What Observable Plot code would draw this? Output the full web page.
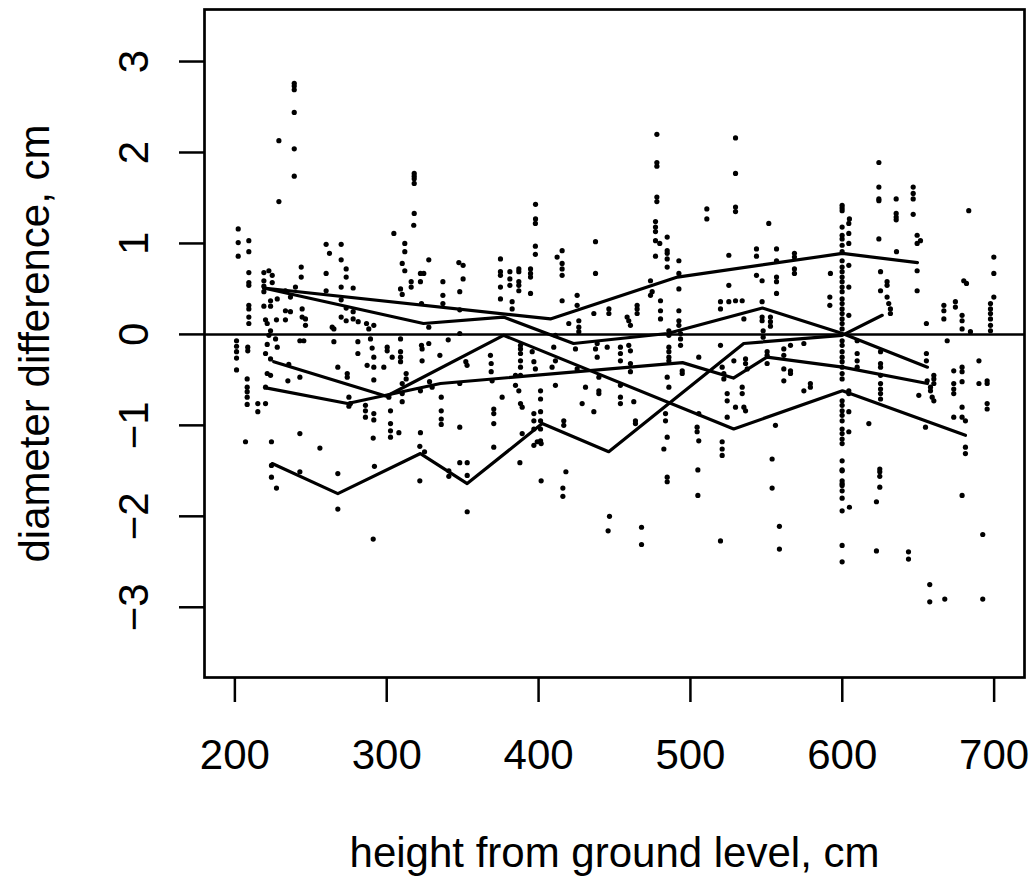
<!DOCTYPE html>
<html><head><meta charset="utf-8">
<script src="https://cdn.jsdelivr.net/npm/d3@7"></script>
<script src="https://cdn.jsdelivr.net/npm/@observablehq/plot@0.6"></script>
<style>body{margin:0;background:#fff}</style>
</head><body><div id="chart"></div>
<script>
const xTicks = [200, 300, 400, 500, 600, 700];
const yTicks = [-3, -2, -1, 0, 1, 2, 3];
const xTitle = "height from ground level, cm";
const yTitle = "diameter difference, cm";

// individual measurements [height, difference]
const dots = [
[229.0,2.13],[229.0,1.46],[239.1,2.76],[239.1,2.73],[239.1,2.69],[239.1,2.44],[239.1,2.04],[239.1,1.74],
[318.1,1.77],[318.1,1.74],[318.1,1.71],[318.1,1.66],[318.1,1.33],
[398.0,1.43],[398.0,1.27],[477.9,2.20],[477.9,1.89],[477.9,1.85],[477.9,1.51],[477.9,1.46],[510.8,1.38],[510.8,1.27],
[529.7,2.16],[529.7,1.77],[529.7,1.40],[529.7,1.35],
[599.9,1.42],[599.9,1.39],[599.9,1.36],[624.1,1.89],[624.1,1.62],[624.1,1.49],[624.1,1.47],[635.5,1.49],
[646.7,1.62],[646.7,1.55],[646.7,1.49],[646.7,1.32],[635.5,1.33],[635.5,1.29],[635.5,1.26],[683.3,1.36],[604.7,1.27],
[201.1,-0.07],[201.1,-0.13],[201.1,-0.19],[201.1,-0.26],[201.1,-0.39],
[202.2,1.16],[202.2,1.01],[202.2,0.86],
[209.2,1.03],[209.2,0.91],[209.2,0.68],[209.2,0.57],[209.2,0.54],[209.2,0.32],[209.2,0.28],[209.2,0.19],[209.2,0.12],
[208.5,-0.14],[208.5,-0.18],[208.1,-0.49],[208.1,-0.58],[208.1,-0.63],[208.1,-0.69],[208.1,-0.77],[207.0,-1.18],
[215.1,-0.76],[215.1,-0.85],
[219.1,0.68],[219.1,0.59],[219.1,0.53],[219.1,0.47],[222.4,0.70],[224.6,0.65],[224.6,0.57],[219.1,0.31],[223.5,0.31],
[227.9,0.39],[223.5,0.37],[220.2,0.16],[221.3,0.12],[223.5,0.04],[222.4,-0.01],[221.3,-0.11],[220.2,-0.21],[223.5,-0.27],
[221.3,-0.43],[223.5,-0.45],[220.2,-0.58],[220.2,-0.76],[224.1,-1.18],[226.8,-0.05],[227.9,-0.14],[227.4,0.16],
[233.3,0.48],[236.6,0.41],[233.3,0.26],[233.3,0.16],[239.9,0.52],[243.7,0.74],[243.7,0.63],[244.3,0.28],[244.3,0.19],
[246.5,0.17],[246.5,0.10],[242.8,-0.07],[245.4,-0.07],[235.5,-0.33],[234.9,-0.51],[242.8,-0.47],[242.8,-1.09],[236.6,0.25],
[260.1,0.99],[262.3,0.89],[260.1,0.67],[260.1,0.48],[270.0,0.99],[270.0,0.82],[273.3,0.72],[273.3,0.63],[270.0,0.52],
[270.0,0.38],[273.3,0.29],[270.0,0.19],[273.3,0.15],[277.9,0.51],[277.9,0.17],[277.9,0.25],[281.2,0.14],[264.1,0.08],
[265.2,0.06],[265.2,-0.08],[267.8,-0.36],[274.0,-0.43],[274.0,-0.47],[275.1,-0.69],[276.1,-0.76],[275.1,-0.79],[256.0,-1.25],
[281.0,-0.08],[281.0,-0.21],[286.7,0.12],[291.5,0.10],[288.2,0.06],[289.3,-0.05],[290.4,-0.15],[291.5,-0.25],[287.1,-0.34],
[291.5,-0.36],[291.5,-0.50],[286.0,-0.78],[286.0,-0.84],[286.0,-0.91],[291.5,-0.87],[291.5,-0.94],[291.1,-1.14],
[298.1,-0.36],[300.3,-0.14],[300.3,-0.18],[303.6,-0.25],[301.4,-0.69],[302.5,-0.84],[302.5,-0.98],[302.5,-1.06],[302.5,-1.13],
[308.0,-1.08],[309.1,-0.05],[309.1,-0.19],[309.1,-0.25],[309.1,-0.30],[312.8,-0.43],[312.8,-0.49],[310.2,-0.54],[310.2,-0.65],
[310.2,-0.74],[304.7,1.11],[317.8,1.20],[311.9,1.00],[311.9,0.91],[310.2,0.78],[311.9,0.70],[309.1,0.50],[310.2,0.44],
[316.1,0.58],[316.1,0.52],
[322.2,0.67],[324.4,0.67],[322.2,0.58],[322.9,0.34],[327.7,0.82],[322.9,-0.12],[327.7,-0.10],[323.3,-0.16],[323.3,-0.29],
[322.2,-0.62],[328.2,-0.52],[329.9,-0.58],[322.2,-1.08],[321.8,-1.23],[327.7,0.08],
[340.5,-0.06],[337.0,0.58],[337.0,0.43],[337.0,0.34],[347.5,0.79],[350.3,0.76],[350.3,0.61],[348.1,0.47],[348.1,0.27],
[348.1,0.01],[352.1,-0.30],[352.9,-0.34],[335.9,-0.69],[335.9,-0.84],[335.9,-0.93],[335.9,-0.99],[348.1,-1.02],[348.1,-0.54],[335.0,-0.23],
[224.1,-1.44],[224.1,-1.57],[227.4,-1.69],[242.8,-1.51],[267.8,-1.53],[267.8,-1.92],[291.1,-2.25],[291.9,-1.45],[321.8,-1.61],
[324.9,-1.29],[340.9,-1.50],[340.9,-1.56],[348.1,-1.41],[353.0,-1.41],[353.0,-1.55],[353.0,-1.95],
[368.3,-0.23],[368.8,-0.32],[368.8,-0.41],[369.4,-0.51],[370.5,-0.82],[370.5,-0.87],[370.5,-0.98],[370.5,-1.24],[374.9,0.83],
[374.9,0.69],[374.9,0.65],[374.9,0.52],[374.9,0.39],[376.0,-0.69],[381.1,0.69],[381.1,0.61],[381.1,0.54],[382.6,0.36],[382.6,0.28],
[387.0,0.72],[387.0,0.69],[387.0,0.58],[387.0,0.54],[387.0,0.48],[388.1,-0.12],[388.1,-0.16],[388.1,-0.21],[388.1,-0.29],
[388.1,-0.36],[388.1,-0.45],[384.8,-0.45],[384.8,-0.56],[387.0,-0.62],[388.1,-0.76],[389.2,-0.80],[389.2,-1.09],[394.7,0.72],
[394.7,0.67],[394.7,0.63],[394.7,0.45],[397.9,1.22],[397.9,0.97],[397.9,0.88],[395.8,-0.19],[396.9,-0.30],[397.9,-0.38],
[401.3,-0.62],[401.3,-0.71],[401.3,-0.85],[401.3,-0.95],[401.3,-1.04],[401.3,-1.17],[396.9,-0.87],[396.9,-0.95],[396.9,-1.04],
[399.1,-1.18],[412.2,0.85],[415.5,0.92],[415.5,0.78],[415.5,0.72],[415.5,0.65],[415.5,0.37],[411.1,-0.01],[410.0,-0.14],
[411.1,-0.29],[408.9,-0.36],[411.1,-0.56],[416.6,-0.95],[416.6,-1.00],[419.9,0.12],[425.4,0.43],[425.4,0.32],[426.5,0.15],
[426.5,0.08],[426.5,0.03],[424.3,-0.16],[425.4,-0.38],[430.9,-0.58],[428.7,-0.76],[437.5,1.02],[437.5,0.67],[436.4,0.23],
[438.6,-0.10],[437.5,-0.16],[438.6,-0.25],[439.7,-0.47],[439.7,-0.62],[439.7,-0.65],[436.4,-0.85],[446.3,0.28],[446.3,0.23],
[445.2,-0.14],[453.9,-0.14],[453.9,-0.21],[453.9,-0.29],[453.9,-0.56],[453.9,-0.69],[453.9,-0.76],[459.4,-0.12],[460.5,-0.18],
[460.5,-0.32],[460.5,-0.41],[462.7,-0.74],[463.8,-0.95],[463.8,-0.98],[458.3,0.19],[459.4,0.15],[460.5,0.10],[464.9,0.32],
[464.9,0.28],[464.9,0.23],[473.7,0.59],[473.7,0.43],[474.8,0.47],[477.0,1.24],[477.0,1.18],[477.0,1.13],[477.0,1.03],
[479.8,1.00],[484.7,1.07],[484.7,0.92],[484.7,0.89],[484.7,0.83],[484.7,0.74],[477.0,0.86],[480.3,0.37],[480.3,0.26],
[480.3,0.17],[485.8,0.04],[485.8,-0.01],[485.8,-0.14],[485.8,-0.19],[485.8,-0.25],[485.8,-0.29],[484.7,-0.47],[485.8,-0.58],
[483.6,-0.87],[483.6,-0.95],[484.7,-1.13],[482.5,-1.26],[492.4,0.81],[492.4,0.67],[492.4,0.50],[492.4,0.26],[492.4,0.15],
[492.4,0.10],[493.5,0.01],[493.5,-0.05],[493.5,-0.12],[494.6,-0.40],[494.6,-0.43],[505.5,-0.25],[505.5,-0.87],[504.4,-1.02],
[504.4,-1.07],[505.5,-1.17],[519.8,0.36],[519.8,0.28],[525.3,0.87],[525.3,0.54],[525.3,0.36],[519.8,-0.12],[520.9,-0.36],
[522.0,-0.43],[522.0,-0.49],[524.2,-0.65],[524.2,-0.73],[520.9,-1.18],[520.9,-1.26],[520.9,-1.33],[529.7,0.37],[528.6,-0.29],
[529.7,-0.80],[524.2,-0.91],
[387.7,-1.41],[396.9,-1.22],[401.7,-1.20],[401.7,-1.61],[416.0,-1.69],[416.0,-1.78],[418.0,-1.51],[446.7,-2.00],[445.8,-2.16],
[467.8,-2.12],[467.8,-2.31],[484.7,-1.57],[484.7,-1.62],[504.9,-1.49],[504.9,-1.77],[519.8,-2.27],
[551.6,1.22],[543.5,0.94],[543.5,0.86],[543.5,0.65],[547.2,0.59],[556.7,0.94],[556.7,0.81],[556.7,0.63],[556.7,0.58],
[556.7,0.45],[568.5,0.89],[568.5,0.85],[568.5,0.72],[568.5,0.67],[547.2,0.36],[547.2,0.19],[547.2,0.15],[552.7,0.19],
[552.7,0.14],[552.7,0.09],[547.9,0.04],[547.9,-0.03],[550.5,-0.19],[550.5,-0.23],[550.5,-0.32],[561.5,-0.16],[561.5,-0.23],
[561.5,-0.38],[565.9,-0.12],[565.9,-0.40],[565.9,-0.43],[561.5,-0.51],[574.7,-0.10],[574.7,-0.62],[579.0,-0.54],[579.0,-0.58],
[536.3,-0.27],[536.3,-0.32],[537.4,-0.38],[534.1,-0.58],[534.1,-0.65],[536.3,-0.84],[535.2,-0.80],[556.0,-1.00],[553.8,-1.37],
[534.1,0.37],[535.2,0.17],[592.2,0.67],[591.8,0.41],[591.8,0.32],
[599.9,1.18],[599.9,1.09],[599.9,1.05],[599.9,0.98],[599.9,0.91],[599.9,0.81],[599.9,0.74],[599.9,0.69],[599.9,0.63],
[599.9,0.58],[599.9,0.52],[599.9,0.47],[599.9,0.39],[599.9,0.34],[599.9,0.28],[599.9,0.23],[599.9,0.17],[599.9,0.12],
[599.9,0.06],[599.9,-0.07],[599.9,-0.12],[599.9,-0.19],[599.9,-0.25],[599.9,-0.30],[599.9,-0.36],[599.9,-0.43],[599.9,-0.49],
[599.9,-0.73],[599.9,-0.78],[599.9,-0.84],[599.9,-0.89],[599.9,-0.95],[599.9,-1.04],[599.9,-1.09],[599.9,-1.15],[599.9,-1.20],
[604.3,1.22],[604.3,1.11],[604.3,1.00],[604.3,0.76],[604.3,0.52],[604.3,0.21],[604.3,-0.62],[604.3,-0.65],[604.3,-0.85],[604.3,-1.07],
[609.8,-0.07],[609.8,-0.21],[609.8,-0.29],[609.8,-0.36],[617.5,-0.98],
[624.1,1.05],[625.2,0.69],[625.2,0.48],[629.5,0.58],[629.5,0.54],[629.5,0.41],[630.6,0.34],[631.7,0.28],[631.7,0.23],
[635.7,0.91],[625.2,-0.19],[625.2,-0.32],[625.2,-0.36],[625.2,-0.45],[625.2,-0.54],[625.2,-0.60],[625.2,-0.65],[625.2,-0.71],
[649.3,1.09],[651.5,1.03],[649.3,1.00],[649.3,0.70],[649.3,0.48],[655.4,0.12],[655.4,-0.21],[655.4,-0.29],[660.3,-0.45],
[660.3,-0.49],[660.3,-0.54],[658.1,-0.58],[658.1,-0.62],[659.2,-0.69],[660.3,-0.73],[650.4,-0.67],[654.8,-1.02],[655.9,-0.51],
[666.9,0.32],[666.9,0.26],[666.9,0.17],[669.1,-0.07],[674.5,0.36],[674.5,0.30],[678.9,0.21],[678.9,0.15],[678.9,0.06],
[680.0,0.59],[681.8,0.56],[673.4,-0.40],[673.4,-0.54],[673.4,-0.60],[673.4,-0.65],[678.9,-0.36],[678.9,-0.41],[678.9,-0.52],
[678.9,-0.80],[678.9,-0.91],[681.1,-0.95],[681.1,-1.24],[681.1,-1.31],[673.4,-0.91],[690.0,-0.29],[690.0,-0.54],[695.4,-0.51],
[695.4,-0.54],[695.4,-0.76],[695.4,-0.82],[697.6,0.34],[697.6,0.28],[697.6,0.23],[697.6,0.17],[697.6,0.10],[697.6,0.04],
[699.8,0.41],[699.8,0.67],[699.8,0.85],[684.4,0.03],
[553.8,-1.69],[558.6,-2.11],[558.6,-2.36],
[599.9,-1.39],[599.9,-1.49],[599.9,-1.50],[599.9,-1.61],[599.9,-1.64],[599.9,-1.66],[599.9,-1.72],[599.9,-1.80],[599.9,-1.94],
[599.9,-2.32],[599.9,-2.50],[604.7,-1.90],[624.7,-1.48],[624.7,-1.51],[624.7,-1.56],[624.7,-1.68],[622.5,-1.84],[622.5,-2.38],
[643.6,-2.39],[643.6,-2.47],[657.6,-2.75],[657.6,-2.94],[667.5,-2.91],[678.9,-1.77],[692.5,-2.20],[692.5,-2.91]
];

// per-tree mean profiles [height, difference]
const treeA = [[218.9,0.51],[324.2,0.12],[376.9,0.19],[423.0,-0.10],[484.9,0.01],[547.4,0.29],[600.1,0.01],[656.1,-0.36]];
const treeB = [[218.9,0.51],[407.8,0.17],[491.5,0.63],[600.1,0.89],[649.5,0.79]];
const treeC = [[224.6,-1.42],[267.8,-1.75],[322.2,-1.31],[353.0,-1.64],[402.4,-0.98],[446.2,-1.29],[535.1,-0.10],[599.9,-0.01],[626.3,0.21]];
const treeD = [[225.6,-0.30],[299.8,-0.68],[376.9,-0.01],[528.5,-1.04],[600.1,-0.62],[681.1,-1.11]];
const treeE = [[221.3,-0.59],[274.2,-0.76],[335.4,-0.54],[494.8,-0.31],[528.3,-0.48],[550.4,-0.25],[600.1,-0.36],[656.1,-0.54]];

const lines = [treeA, treeB, treeC, treeD, treeE]
  .flatMap((pts, i) => pts.map(([x, y]) => ({x, y, tree: i})));
const fmt = d3.format("d");
const font = "'Liberation Sans', Arial, Helvetica, sans-serif";
const fs = 42;

const chart = Plot.plot({
  width: 1034,
  height: 879,
  marginLeft: 204,
  marginRight: 10,
  marginTop: 9,
  marginBottom: 202,
  x: {domain: [180, 720], label: null},
  y: {domain: [-3.772, 3.572], label: null},
  style: {fontFamily: font, background: "#fff", color: "#000"},
  marks: [
    Plot.ruleY([0], {stroke: "#000", strokeWidth: 2.5}),
    Plot.dot(dots, {x: d => d[0], y: d => d[1], r: 2.6, fill: "#000", stroke: "none"}),
    Plot.line(lines, {x: "x", y: "y", z: "tree", stroke: "#000", strokeWidth: 3.2, strokeLinejoin: "round", strokeLinecap: "round"}),
    Plot.frame({stroke: "#000", strokeWidth: 2.7}),
    Plot.axisX({ticks: xTicks, tickSize: 25, strokeWidth: 2.5, tickFormat: () => "", label: null}),
    Plot.axisY({ticks: yTicks, tickSize: 25, strokeWidth: 2.5, tickFormat: () => "", label: null}),
    Plot.text(xTicks, {x: d => d, text: d => String(d), frameAnchor: "bottom", dy: 78, fontSize: fs, lineAnchor: "middle", fill: "#000"}),
    Plot.text(yTicks, {y: d => d, text: d => fmt(d), frameAnchor: "left", dx: -70, rotate: -90, fontSize: fs, lineAnchor: "middle", textAnchor: "middle", fill: "#000"}),
    Plot.text([xTitle], {text: d => d, frameAnchor: "bottom", dy: 176, fontSize: fs, lineAnchor: "middle", textAnchor: "middle", fill: "#000"}),
    Plot.text([yTitle], {text: d => d, frameAnchor: "left", dx: -169, rotate: -90, fontSize: fs, lineAnchor: "middle", textAnchor: "middle", fill: "#000"})
  ]
});
document.getElementById("chart").appendChild(chart);
</script>
</body></html>
